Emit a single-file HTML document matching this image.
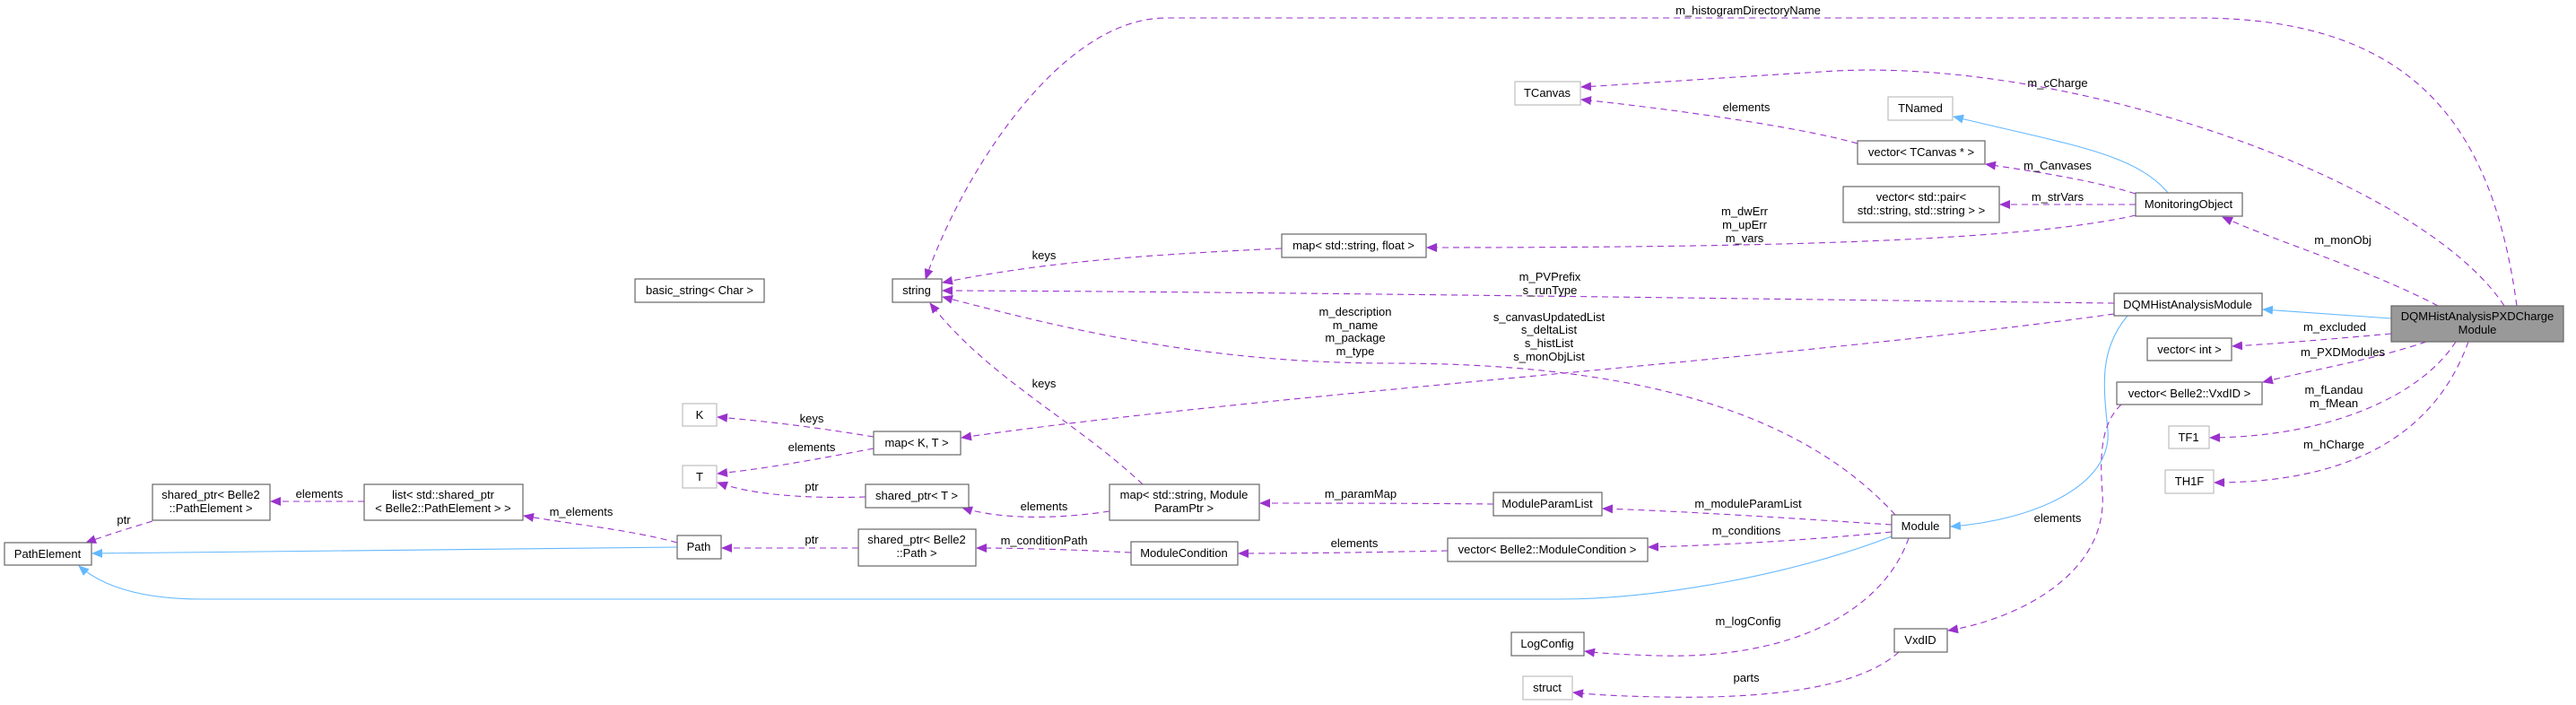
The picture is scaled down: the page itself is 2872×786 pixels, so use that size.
<!DOCTYPE html>
<html><head><meta charset="utf-8"><style>
html,body{margin:0;padding:0;background:#fff;}
svg{display:block;}
text{font-family:"Liberation Sans",Helvetica,Arial,sans-serif;font-size:13px;fill:#000;}
.n{fill:#fff;stroke:#666;stroke-width:1.2;}
.g{fill:#fff;stroke:#bfbfbf;stroke-width:1.2;}
.p{fill:none;stroke:#9a32cd;stroke-width:1.1;stroke-dasharray:7,5;}
.b{fill:none;stroke:#63b8ff;stroke-width:1.1;}
</style></head><body>
<svg width="2872" height="786" viewBox="0 0 2872 786" xmlns="http://www.w3.org/2000/svg">
<defs>
<marker id="ap" markerWidth="12" markerHeight="10" refX="11" refY="5" orient="auto" markerUnits="userSpaceOnUse"><path d="M0,0 L12,5 L0,10 z" fill="#9a32cd"/></marker>
<marker id="ab" markerWidth="12" markerHeight="10" refX="11" refY="5" orient="auto" markerUnits="userSpaceOnUse"><path d="M0,0 L12,5 L0,10 z" fill="#63b8ff"/></marker>
</defs>

<!-- edges -->
<g>
<path class="p" marker-end="url(#ap)" d="M2806,341 C2780,150 2700,20 2450,20 L1300,20 C1180,20 1070,200 1032,311"/>
<path class="p" marker-end="url(#ap)" d="M2792,341 C2700,200 2300,60 2031,80 C1900,88 1800,95 1763,97"/>
<path class="p" marker-end="url(#ap)" d="M2071,160 C2000,140 1850,120 1763,111"/>
<path class="b" marker-end="url(#ab)" d="M2417,215 C2380,170 2300,160 2178,130"/>
<path class="p" marker-end="url(#ap)" d="M2381,216 C2330,200 2260,190 2214,183"/>
<path class="p" marker-end="url(#ap)" d="M2381,228 L2230,228"/>
<path class="p" marker-end="url(#ap)" d="M2381,240 C2250,270 1950,276 1591,276"/>
<path class="p" marker-end="url(#ap)" d="M1429,277 C1250,285 1150,295 1051,315"/>
<path class="p" marker-end="url(#ap)" d="M2718,341 C2640,300 2540,270 2478,242"/>
<path class="b" marker-end="url(#ab)" d="M2666,355 L2523,345"/>
<path class="p" marker-end="url(#ap)" d="M2357,338 C2000,334 1400,325 1051,324"/>
<path class="p" marker-end="url(#ap)" d="M2357,350 C2000,400 1400,440 1072,488"/>
<path class="p" marker-end="url(#ap)" d="M2113,574 C2000,450 1800,405 1550,405 C1350,405 1200,370 1051,331"/>
<path class="p" marker-end="url(#ap)" d="M1274,540 C1200,470 1100,420 1037,338"/>
<path class="p" marker-end="url(#ap)" d="M974,487 C920,478 860,470 800,465"/>
<path class="p" marker-end="url(#ap)" d="M974,500 C920,510 860,522 800,528"/>
<path class="p" marker-end="url(#ap)" d="M965,554 C900,556 840,552 800,538"/>
<path class="p" marker-end="url(#ap)" d="M1237,570 C1170,580 1110,578 1073,566"/>
<path class="p" marker-end="url(#ap)" d="M1665,562 C1580,561 1480,561 1405,561"/>
<path class="p" marker-end="url(#ap)" d="M2109,585 C2000,578 1880,570 1787,567"/>
<path class="p" marker-end="url(#ap)" d="M2109,593 C2010,603 1910,608 1838,610"/>
<path class="p" marker-end="url(#ap)" d="M1614,614 C1520,616 1450,617 1381,617"/>
<path class="p" marker-end="url(#ap)" d="M1261,616 C1200,613 1140,611 1089,611"/>
<path class="p" marker-end="url(#ap)" d="M957,611 L805,611"/>
<path class="p" marker-end="url(#ap)" d="M755,605 C700,590 640,585 584,575"/>
<path class="p" marker-end="url(#ap)" d="M406,559 L302,559"/>
<path class="p" marker-end="url(#ap)" d="M170,581 C140,590 115,598 96,605"/>
<path class="b" marker-end="url(#ab)" d="M755,610 L103,617"/>
<path class="b" marker-end="url(#ab)" d="M2109,598 C2000,640 1850,668 1738,668 L225,668 C150,668 110,650 88,631"/>
<path class="b" marker-end="url(#ab)" d="M2372,352 C2340,390 2345,430 2350,480 C2355,540 2270,580 2175,587"/>
<path class="p" marker-end="url(#ap)" d="M2365,451 C2345,470 2340,500 2344,550 C2350,640 2250,690 2172,703"/>
<path class="p" marker-end="url(#ap)" d="M2128,600 C2100,680 2000,735 1850,731 C1810,730 1780,728 1767,726"/>
<path class="p" marker-end="url(#ap)" d="M2117,727 C2080,760 2000,780 1850,777 C1800,776 1770,774 1754,772"/>
<path class="p" marker-end="url(#ap)" d="M2666,372 C2600,378 2540,383 2489,386"/>
<path class="p" marker-end="url(#ap)" d="M2705,381 C2650,400 2580,412 2523,426"/>
<path class="p" marker-end="url(#ap)" d="M2738,381 C2700,440 2600,487 2464,488"/>
<path class="p" marker-end="url(#ap)" d="M2752,381 C2720,470 2640,538 2469,538"/>
</g>

<!-- edge labels -->
<g text-anchor="middle">
<text x="1949" y="16">m_histogramDirectoryName</text>
<text x="2294" y="97">m_cCharge</text>
<text x="1947" y="124">elements</text>
<text x="2294" y="189">m_Canvases</text>
<text x="2294" y="224">m_strVars</text>
<text x="1945" y="240">m_dwErr</text>
<text x="1945" y="255">m_upErr</text>
<text x="1945" y="270">m_vars</text>
<text x="1164" y="289">keys</text>
<text x="2612" y="272">m_monObj</text>
<text x="1728" y="313">m_PVPrefix</text>
<text x="1728" y="328">s_runType</text>
<text x="1727" y="358">s_canvasUpdatedList</text>
<text x="1727" y="372">s_deltaList</text>
<text x="1727" y="387">s_histList</text>
<text x="1727" y="402">s_monObjList</text>
<text x="1511" y="352">m_description</text>
<text x="1511" y="367">m_name</text>
<text x="1511" y="381">m_package</text>
<text x="1511" y="396">m_type</text>
<text x="1164" y="432">keys</text>
<text x="905" y="471">keys</text>
<text x="905" y="503">elements</text>
<text x="905" y="547">ptr</text>
<text x="1164" y="569">elements</text>
<text x="1517" y="555">m_paramMap</text>
<text x="1949" y="566">m_moduleParamList</text>
<text x="1947" y="596">m_conditions</text>
<text x="1510" y="610">elements</text>
<text x="1164" y="607">m_conditionPath</text>
<text x="905" y="606">ptr</text>
<text x="648" y="575">m_elements</text>
<text x="356" y="555">elements</text>
<text x="138" y="584">ptr</text>
<text x="2294" y="582">elements</text>
<text x="1949" y="697">m_logConfig</text>
<text x="1947" y="760">parts</text>
<text x="2603" y="369">m_excluded</text>
<text x="2612" y="397">m_PXDModules</text>
<text x="2602" y="439">m_fLandau</text>
<text x="2602" y="454">m_fMean</text>
<text x="2602" y="500">m_hCharge</text>
</g>

<!-- nodes -->
<g text-anchor="middle">
<rect class="n" x="5" y="605" width="97" height="25"/><text x="53" y="622">PathElement</text>
<rect class="n" x="170" y="540" width="131" height="40"/><text x="235" y="556">shared_ptr&lt; Belle2</text><text x="235" y="571">::PathElement &gt;</text>
<rect class="n" x="406" y="540" width="177" height="40"/><text x="494" y="556">list&lt; std::shared_ptr</text><text x="494" y="571">&lt; Belle2::PathElement &gt; &gt;</text>
<rect class="n" x="755" y="597" width="49" height="26"/><text x="779" y="614">Path</text>
<rect class="n" x="957" y="590" width="131" height="41"/><text x="1022" y="606">shared_ptr&lt; Belle2</text><text x="1022" y="621">::Path &gt;</text>
<rect class="n" x="1261" y="604" width="119" height="26"/><text x="1320" y="621">ModuleCondition</text>
<rect class="n" x="1237" y="540" width="167" height="40"/><text x="1320" y="556">map&lt; std::string, Module</text><text x="1320" y="571">ParamPtr &gt;</text>
<rect class="n" x="965" y="540" width="115" height="26"/><text x="1022" y="557">shared_ptr&lt; T &gt;</text>
<rect class="g" x="761" y="519" width="38" height="25"/><text x="780" y="536">T</text>
<rect class="g" x="761" y="450" width="38" height="25"/><text x="780" y="467">K</text>
<rect class="n" x="974" y="481" width="97" height="26"/><text x="1022" y="498">map&lt; K, T &gt;</text>
<rect class="n" x="708" y="311" width="144" height="26"/><text x="780" y="328">basic_string&lt; Char &gt;</text>
<rect class="n" x="995" y="311" width="55" height="26"/><text x="1022" y="328">string</text>
<rect class="n" x="1429" y="261" width="161" height="26"/><text x="1509" y="278">map&lt; std::string, float &gt;</text>
<rect class="g" x="1689" y="91" width="73" height="26"/><text x="1725" y="108">TCanvas</text>
<rect class="g" x="2105" y="108" width="72" height="26"/><text x="2141" y="125">TNamed</text>
<rect class="n" x="2071" y="157" width="142" height="26"/><text x="2142" y="174">vector&lt; TCanvas * &gt;</text>
<rect class="n" x="2055" y="208" width="174" height="40"/><text x="2142" y="224">vector&lt; std::pair&lt;</text><text x="2142" y="239">std::string, std::string &gt; &gt;</text>
<rect class="n" x="2381" y="215" width="119" height="26"/><text x="2440" y="232">MonitoringObject</text>
<rect class="n" x="2357" y="327" width="165" height="25"/><text x="2439" y="344">DQMHistAnalysisModule</text>
<rect x="2666" y="341" width="192" height="40" fill="#999" stroke="#666" stroke-width="1.2"/><text x="2762" y="357">DQMHistAnalysisPXDCharge</text><text x="2762" y="372">Module</text>
<rect class="n" x="2394" y="377" width="94" height="25"/><text x="2441" y="394">vector&lt; int &gt;</text>
<rect class="n" x="2360" y="426" width="162" height="25"/><text x="2441" y="443">vector&lt; Belle2::VxdID &gt;</text>
<rect class="g" x="2418" y="475" width="45" height="25"/><text x="2440" y="492">TF1</text>
<rect class="g" x="2414" y="524" width="54" height="26"/><text x="2441" y="541">TH1F</text>
<rect class="n" x="1665" y="549" width="121" height="26"/><text x="1725" y="566">ModuleParamList</text>
<rect class="n" x="1614" y="600" width="223" height="26"/><text x="1725" y="617">vector&lt; Belle2::ModuleCondition &gt;</text>
<rect class="n" x="2109" y="574" width="65" height="26"/><text x="2141" y="591">Module</text>
<rect class="n" x="1685" y="705" width="81" height="26"/><text x="1725" y="722">LogConfig</text>
<rect class="n" x="2112" y="701" width="59" height="26"/><text x="2141" y="718">VxdID</text>
<rect class="g" x="1698" y="754" width="55" height="26"/><text x="1725" y="771">struct</text>
</g>
</svg>
</body></html>
